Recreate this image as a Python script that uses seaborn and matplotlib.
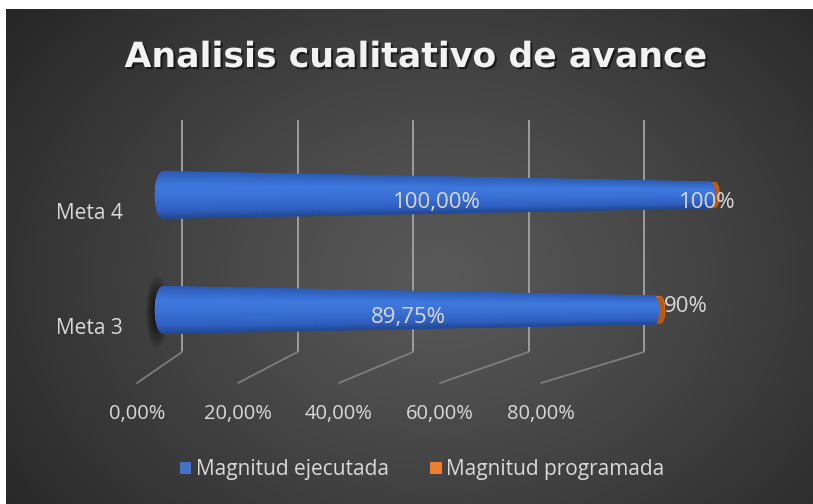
import numpy as np
import pandas as pd
import matplotlib
matplotlib.use("Agg")
import matplotlib.pyplot as plt
import seaborn as sns
from matplotlib.patches import Patch, Ellipse
from matplotlib.colors import LinearSegmentedColormap
import matplotlib.patheffects as pe
from matplotlib.transforms import ScaledTranslation

# ---- data ----
metas = ["Meta 4", "Meta 3"]
ejecutada = [1.00, 0.8975]
programada = [1.00, 0.90]
ejecutada_labels = ["100,00%", "89,75%"]
programada_labels = ["100%", "90%"]
tick_values = [0.0, 0.2, 0.4, 0.6, 0.8]
tick_labels = ["0,00%", "20,00%", "40,00%", "60,00%", "80,00%"]
series_names = ["Magnitud ejecutada", "Magnitud programada"]
title = "Analisis cualitativo de avance"

# ---- styling ----
W, H = 813, 504
TXT = "#d9d9d9"
BLUE = "#4472c4"
ORANGE = "#ed7d31"
sns.set_theme(style="white")
plt.rcParams["font.family"] = ["Open Sans", "DejaVu Sans"]

fig = plt.figure(figsize=(W / 100, H / 100), dpi=100)
fig.patch.set_facecolor("white")

# ---- dark panel with radial gradient (pixel coordinates) ----
bg = fig.add_axes([0, 0, 1, 1], zorder=0)
bg.set_xlim(0, W)
bg.set_ylim(H, 0)
bg.axis("off")
yy, xx = np.mgrid[0:H, 0:W] + 0.5
r = np.sqrt(((xx - 440) / 560) ** 2 + ((yy - 275) / 430) ** 2)
r = np.clip(r, 0, 1)
c0, c1 = 0x59 / 255, 0x25 / 255
val = c0 + (c1 - c0) * r ** 1.15
img = np.dstack([val] * 3)
img[(xx < 6) | (yy < 9)] = 1.0
bg.imshow(img, extent=(0, W, H, 0), aspect="auto", interpolation="bilinear", zorder=0)

# perspective walls: back-wall verticals and floor diagonals
for v in tick_values:
    bx = 182 + 577.5 * v
    fx = 137 + 505 * v
    bg.plot([bx, bx], [120, 352], color="#a3a3a3", lw=1.3, zorder=1, solid_capstyle="butt")
    bg.plot([bx, fx], [352, 383], color="#7e7e7e", lw=1.3, zorder=1)

# soft shadow behind the lower cone's base
for i in range(10):
    s = 1 - i / 12
    bg.add_patch(Ellipse((157, 312), 22 * s, 72 * s, color="black", alpha=0.09, lw=0, zorder=1))

# ---- cone bars ----
XPX, YPX = 547.0, 115.0          # pixels per data unit
H0, H1 = 47 / YPX, 26 / YPX      # cone thickness at 0 and at 100 %
K = 0.33                         # end-ellipse aspect
DEPTH = 0.009                    # depth shift of the rear series
rect = [163 / W, 1 - 367.5 / H, XPX / W, 230 / H]

bax = fig.add_axes(rect, zorder=2)
bax.patch.set_alpha(0)

df = pd.DataFrame({"meta": metas, "ejecutada": ejecutada, "programada": programada})
sns.barplot(data=df, x="programada", y="meta", orient="h", color=ORANGE,
            width=H0, ax=bax)
sns.barplot(data=df, x="ejecutada", y="meta", orient="h", color=BLUE,
            width=H0, ax=bax)
bax.set_xlim(0, 1)
bax.set_ylim(1.5, -0.5)

# numeric twin used to render the shaded cones over the seaborn bars
cax = fig.add_axes(rect, zorder=3)
cax.patch.set_alpha(0)
cax.set_xlim(0, 1)
cax.set_ylim(1.5, -0.5)
cax.axis("off")

blue_cmap = LinearSegmentedColormap.from_list(
    "b", [(0, "#2d5cb8"), (0.3, "#3f79df"), (0.55, "#3a71d6"), (0.85, "#2f5fc0"), (1, "#234a94")])
orange_cmap = LinearSegmentedColormap.from_list(
    "o", [(0, "#d8691c"), (0.3, "#f7842a"), (0.55, "#f07b25"), (0.85, "#d2661a"), (1, "#a94f10")])


def half_h(x):
    return (H0 - (H0 - H1) * x) / 2


def draw_cone(x_end, yc, cmap, z, face=None, thin=1.0):
    t = np.linspace(-1, 1, 41)[:, None]
    s = np.linspace(0, 1, 80)[None, :]
    hl, hr = half_h(0.0) * thin, half_h(x_end) * thin
    al = K * hl * YPX / XPX
    ar = K * hr * YPX / XPX
    xl = -al * np.sqrt(1 - t ** 2)
    xr = x_end + ar * np.sqrt(1 - t ** 2)
    X = xl + (xr - xl) * s
    Y = yc + t * (hl + (hr - hl) * s)
    C = np.broadcast_to(t, X.shape)
    m = cax.pcolormesh(X, Y, C, cmap=cmap, vmin=-1, vmax=1, shading="gouraud", zorder=z)
    m.set_clip_on(False)
    if face is not None:
        e = Ellipse((x_end, yc), 2 * ar, 2 * hr, facecolor=face, edgecolor="none", zorder=z + 0.1)
        e.set_clip_on(False)
        cax.add_patch(e)


patches = list(bax.patches)
orange_p, blue_p = patches[:2], patches[2:]
for p in patches:
    p.set_visible(False)

for p in orange_p:
    yc = p.get_y() + p.get_height() / 2
    draw_cone(p.get_x() + p.get_width() + DEPTH, yc, orange_cmap, 3, face="#b65a14", thin=0.97)
for p in blue_p:
    yc = p.get_y() + p.get_height() / 2
    draw_cone(p.get_x() + p.get_width(), yc, blue_cmap, 4)

# value labels
dy = ScaledTranslation(0, -8 / 100, fig.dpi_scale_trans)
for p, lab in zip(blue_p, ejecutada_labels):
    yc = p.get_y() + p.get_height() / 2
    cax.text(p.get_width() / 2, yc, lab, ha="center", va="center", fontsize=16,
             color=TXT, zorder=6, transform=cax.transData + dy, clip_on=False)
orange_align = [("center", -8, -8), ("left", 3, 4)]
for p, lab, (ha, oy, ox) in zip(orange_p, programada_labels, orange_align):
    yc = p.get_y() + p.get_height() / 2
    t = ScaledTranslation(ox / 100, oy / 100, fig.dpi_scale_trans)
    cax.text(p.get_width() + DEPTH, yc, lab, ha=ha, va="center", fontsize=16, color=TXT,
             zorder=6, transform=cax.transData + t, clip_on=False)

bax.set_xlabel("")
bax.set_ylabel("")
bax.set_xticks([])
bax.set_yticks([0, 1])
bax.set_yticklabels(metas, color=TXT, fontsize=15)
bax.tick_params(axis="y", length=0, pad=29)
for lab in bax.get_yticklabels():
    lab.set_transform(lab.get_transform() + ScaledTranslation(0, -16 / 100, fig.dpi_scale_trans))
sns.despine(ax=bax, left=True, bottom=True)

# value axis labels along the front edge of the floor
tax = fig.add_axes([137 / W, 1 - 403 / H, 505 / W, 0.0001], zorder=2)
tax.patch.set_alpha(0)
tax.set_xlim(0, 1)
tax.set_xticks(tick_values)
tax.set_xticklabels(tick_labels, color=TXT, fontsize=14.5)
tax.set_yticks([])
tax.tick_params(axis="x", length=0, pad=1)
for s in tax.spines.values():
    s.set_visible(False)

# title
fig.text(416 / W, 1 - 57 / H, title, ha="center", va="center", fontsize=25,
         fontweight="bold", color="#f2f2f2", family=["DejaVu Sans"],
         path_effects=[pe.withSimplePatchShadow(offset=(1.5, -1.5), shadow_rgbFace="black", alpha=0.55)])

# legend
handles = [Patch(facecolor=BLUE, edgecolor="none"), Patch(facecolor=ORANGE, edgecolor="none")]
leg = fig.legend(handles, series_names, loc="center", bbox_to_anchor=(422 / W, 1 - 470 / H),
                 ncol=2, frameon=False, fontsize=15, handlelength=0.55, handleheight=0.55,
                 handletextpad=0.2, columnspacing=2.0)
for t in leg.get_texts():
    t.set_color(TXT)

fig.savefig("out.png", dpi=100, facecolor=fig.get_facecolor())
